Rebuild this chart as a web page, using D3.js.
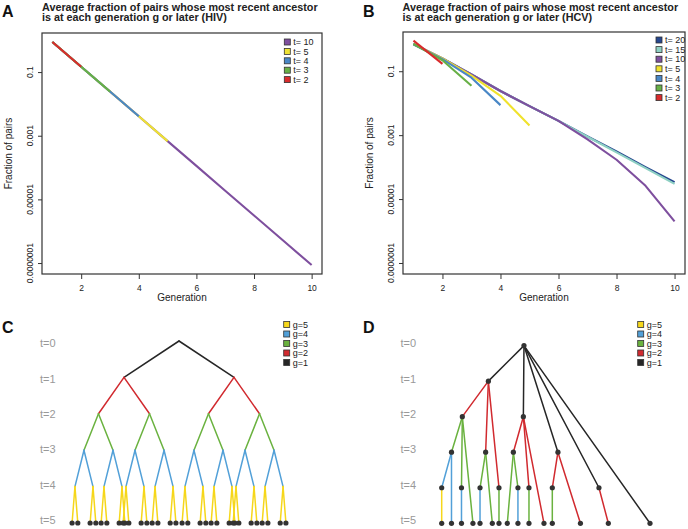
<!DOCTYPE html>
<html><head><meta charset="utf-8">
<script src="https://cdn.jsdelivr.net/npm/d3@7"></script>
<style>body{margin:0;background:#fff}text{font-family:Arial,"Liberation Sans",Helvetica,sans-serif}</style>
</head><body><svg id="c" width="688" height="529"></svg>
<script>
// ---------- DATA ----------
const generations = [1,2,3,4,5,6,7,8,9,10];
const yTickValues = [0.1, 0.001, 0.00001, 0.0000001];
const yTickLabels = ["0.1", "0.001", "0.00001", "0.0000001"];
const xTickValues = [2,4,6,8,10];

// Panel A (HIV)
const hivLabels = ["t= 10","t= 5","t= 4","t= 3","t= 2"];
const hivT10 = [0.885,0.147,0.0245,0.00407,0.000678,0.000113,0.0000187,0.00000312,0.000000519,0.0000000863];
const hivT5  = [0.885,0.147,0.0245,0.00407,0.000678];
const hivT4  = [0.885,0.147,0.0245,0.00407];
const hivT3  = [0.885,0.147,0.0245];
const hivT2  = [0.885,0.147];

// Panel B (HCV)
const hcvLabels = ["t= 20","t= 15","t= 10","t= 5","t= 4","t= 3","t= 2"];
const hcvT20 = [0.70,0.25,0.079,0.024,0.0081,0.0028,0.00091,0.00031,0.00010,0.000034];
const hcvT15 = [0.70,0.25,0.079,0.024,0.0081,0.0028,0.00089,0.00029,0.000093,0.000030];
const hcvT10 = [0.71,0.25,0.079,0.024,0.0081,0.0028,0.00074,0.00017,0.000026,0.0000020];
const hcvT5  = [0.70,0.25,0.073,0.017,0.0020];
const hcvT4  = [0.70,0.24,0.063,0.0087];
const hcvT3  = [0.72,0.22,0.035];
const hcvT2  = [0.91,0.17];

// Panels C and D
const timeLabels = ["t=0","t=1","t=2","t=3","t=4","t=5"];
const genLabels = ["g=5","g=4","g=3","g=2","g=1"];
// C: binary tree, half-spread of each split per generation (relative units)
const cSpread = [50, 23.2, 13.2, 8.2, 2.6];
// D: nodes (id, parent, time level, lateral position)
const dId     = ["r","A","B","C","D","E","A1","A1a","A1a4","A1a4l","A1al","A1b","A1bl","A1l","A2","A24","A24l","A2l","A3","A3l","B1","B1l","B14","B14l","B2","B2l","Bl","C4","C4l","Cl","Dl"];
const dParent = [null,"r","r","r","r","r","A","A1","A1a","A1a4","A1a","A1","A1b","A1","A","A2","A24","A2","A","A3","B","B1","B1","B14","B","B2","B","C","C4","C","D"];
const dTime   = [0,1,2,3,4,5,2,3,4,5,5,4,5,5,3,4,5,5,4,5,3,5,4,5,4,5,5,4,5,5,5];
const dPos    = [39.5,22.4,39.2,55.8,75.5,100,9.9,4.7,0,0,4.7,9.5,9.5,15.0,21.1,18.4,18.4,24.3,27.5,27.5,34.4,31.5,36.6,36.6,41.9,41.9,49.1,53.1,53.1,66.6,80.0];

// ---------- STYLE ----------
const hivColors = ["#7E4F9E","#EEE234","#4987C6","#67B046","#D92B2C"];
const hcvColors = ["#26478F","#8ED0C3","#7E4F9E","#F0E22C","#4987C6","#67B046","#D92B2C"];
const genColors = ["#F6D71B","#52A0D8","#6AB23F","#D12A2F","#262626"]; // g=5..g=1
const genColorByDepth = d => genColors[genColors.length - d]; // depth 1 => g=1

const svg = d3.select("#c");

// ---------- PLOTS A & B ----------
const logExt = d3.extent(hivT10).map(Math.log10);
const pad = (logExt[1]-logExt[0])*0.04;
const yDomain = [Math.pow(10, logExt[0]-pad), Math.pow(10, logExt[1]+pad)];
const xPad = (10-1)*0.04;

function plot(opts){
  const {x0,x1,y0,y1,series,colors,labels,title,letter,letterX,legX,legY,legStep,ytX,ylabX,titleX} = opts;
  const g = svg.append("g");
  const x = d3.scaleLinear().domain([1-xPad,10+xPad]).range([x0,x1]);
  const y = d3.scaleLog().domain(yDomain).range([y1,y0]);
  const line = d3.line().x((d,i)=>x(generations[i])).y(d=>y(d));
  series.forEach((s,i)=>{
    g.append("path").attr("d",line(s)).attr("fill","none")
     .attr("stroke",colors[i]).attr("stroke-width",2.1).attr("stroke-linejoin","round");
  });
  g.append("rect").attr("x",x0).attr("y",y0).attr("width",x1-x0).attr("height",y1-y0)
   .attr("fill","none").attr("stroke","#333").attr("stroke-width",1.2);
  const xa = g.append("g").attr("transform",`translate(0,${y1})`)
    .call(d3.axisBottom(x).tickValues(xTickValues).tickSize(5).tickPadding(6).tickFormat(d3.format("d")));
  xa.select(".domain").remove();
  xa.selectAll("line").attr("stroke","#333");
  xa.selectAll("text").attr("font-size",8.5).attr("fill","#222").attr("font-family","Arial, Liberation Sans, sans-serif");
  g.append("text").attr("x",(x0+x1)/2).attr("y",y1+27).attr("text-anchor","middle")
   .attr("font-size",10).attr("fill","#222").text("Generation");
  const ya = g.append("g").attr("transform",`translate(${x0},0)`)
    .call(d3.axisLeft(y).tickValues(yTickValues).tickSize(4).tickFormat((d,i)=>yTickLabels[i]));
  ya.select(".domain").remove();
  ya.selectAll("line").attr("stroke","#333");
  ya.selectAll("text").remove();
  yTickValues.forEach((v,i)=>{
    g.append("text").attr("transform",`translate(${ytX},${y(v)}) rotate(-90)`)
     .attr("text-anchor","middle").attr("font-size",8.5).attr("fill","#222").text(yTickLabels[i]);
  });
  g.append("text").attr("transform",`translate(${ylabX},${(y0+y1)/2}) rotate(-90)`)
   .attr("text-anchor","middle").attr("font-size",10).attr("fill","#222").text("Fraction of pairs");
  g.append("text").attr("x",titleX).attr("y",10.7).attr("font-size",10.8).attr("font-weight","bold").attr("fill","#222")
   .text("Average fraction of pairs whose most recent ancestor");
  g.append("text").attr("x",titleX).attr("y",21.2).attr("font-size",10.8).attr("font-weight","bold").attr("fill","#222")
   .text(title);
  g.append("text").attr("x",letterX).attr("y",17).attr("font-size",16).attr("font-weight","bold").attr("fill","#111").text(letter);
  labels.forEach((lab,i)=>{
    const ly = legY + i*legStep;
    g.append("rect").attr("x",legX-3).attr("y",ly-3).attr("width",6).attr("height",6)
     .attr("fill",colors[i]).attr("stroke","#333").attr("stroke-width",0.8);
    g.append("text").attr("x",legX+6).attr("y",ly).attr("dy","0.35em").attr("font-size",9)
     .attr("fill","#222").attr("xml:space","preserve").text(lab);
  });
}

plot({x0:42,x1:322,y0:33,y1:274,series:[hivT10,hivT5,hivT4,hivT3,hivT2],colors:hivColors,labels:hivLabels,
  title:"is at each generation g or later (HIV)",letter:"A",letterX:2,legX:287.3,legY:42,legStep:9.4,ytX:33,ylabX:11.5,titleX:42});
plot({x0:403,x1:685,y0:32,y1:274,series:[hcvT20,hcvT15,hcvT10,hcvT5,hcvT4,hcvT3,hcvT2],colors:hcvColors,labels:hcvLabels,
  title:"is at each generation g or later (HCV)",letter:"B",letterX:363,legX:659,legY:40,legStep:9.6,ytX:393.7,ylabX:372.5,titleX:402.5});

// ---------- TREES C & D ----------
function treeLegend(x, letter, letterX){
  const g = svg.append("g");
  genLabels.forEach((lab,i)=>{
    const ly = 324.5 + i*9.5;
    g.append("rect").attr("x",x-3).attr("y",ly-3).attr("width",6).attr("height",6)
     .attr("fill",genColors[i]).attr("stroke","#333").attr("stroke-width",0.8);
    g.append("text").attr("x",x+6).attr("y",ly).attr("dy","0.35em").attr("font-size",9).attr("fill","#222").text(lab);
  });
  g.append("text").attr("x",letterX).attr("y",333).attr("font-size",16).attr("font-weight","bold").attr("fill","#111").text(letter);
}
function timeAxis(x){
  const yl = d3.scaleLinear().domain([0,5]).range([343.5,520]);
  timeLabels.forEach((t,i)=>{
    svg.append("text").attr("x",x).attr("y",yl(i)).attr("dy","0.35em").attr("font-size",11).attr("fill","#999").text(t);
  });
}

// Panel C
(function(){
  const yC = d3.scaleLinear().domain([0,5]).range([341,523]);
  const xC = d3.scaleLinear().domain([-100,100]).range([69,289]);
  function build(depth,pos){
    const node = {pos, depth, children: []};
    if(depth < cSpread.length){
      node.children.push(build(depth+1,pos-cSpread[depth]));
      node.children.push(build(depth+1,pos+cSpread[depth]));
    }
    return node;
  }
  const root = d3.hierarchy(build(0,0), d=>d.children.length?d.children:null);
  const g = svg.append("g");
  g.selectAll("line").data(root.links()).join("line")
    .attr("x1",d=>xC(d.source.data.pos)).attr("y1",d=>yC(d.source.depth))
    .attr("x2",d=>xC(d.target.data.pos)).attr("y2",d=>yC(d.target.depth))
    .attr("stroke",d=>genColorByDepth(d.source.depth+1)).attr("stroke-width",1.5).attr("stroke-linecap","round");
  g.selectAll("circle").data(root.leaves()).join("circle")
    .attr("cx",d=>xC(d.data.pos)).attr("cy",d=>yC(d.depth)).attr("r",2.6).attr("fill","#333");
  timeAxis(40);
  treeLegend(286.7,"C",2);
})();

// Panel D
(function(){
  const yD = d3.scaleLinear().domain([0,5]).range([345.6,523.3]);
  const xD = d3.scaleLinear().domain([0,100]).range([441.7,650]);
  const rows = dId.map((id,i)=>({id, parentId:dParent[i], t:dTime[i], pos:dPos[i]}));
  const root = d3.stratify().id(d=>d.id).parentId(d=>d.parentId)(rows);
  const g = svg.append("g");
  g.selectAll("line").data(root.links()).join("line")
    .attr("x1",d=>xD(d.source.data.pos)).attr("y1",d=>yD(d.source.data.t))
    .attr("x2",d=>xD(d.target.data.pos)).attr("y2",d=>yD(d.target.data.t))
    .attr("stroke",d=>genColorByDepth(d.source.depth+1)).attr("stroke-width",1.5).attr("stroke-linecap","round");
  g.selectAll("circle").data(root.descendants()).join("circle")
    .attr("cx",d=>xD(d.data.pos)).attr("cy",d=>yD(d.data.t)).attr("r",2.6).attr("fill","#333");
  timeAxis(400.5);
  treeLegend(640.7,"D",363);
})();
</script></body></html>
